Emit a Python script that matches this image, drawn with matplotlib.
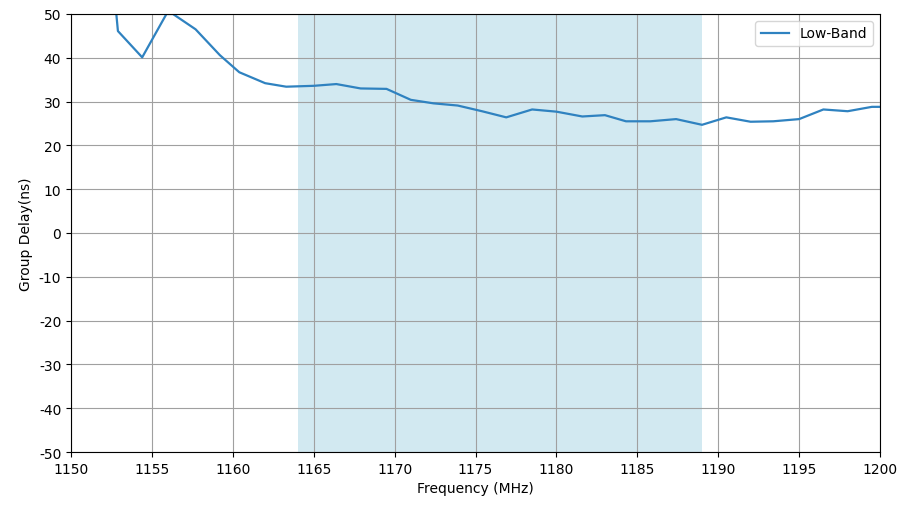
import matplotlib
matplotlib.use("Agg")
import matplotlib.pyplot as plt
import numpy as np

plt.rcParams["axes.unicode_minus"] = False

# frequency (MHz) and group delay (ns)
freq = [1151.4, 1152.9, 1154.4, 1155.9, 1156.3, 1157.7, 1159.2, 1160.4, 1162.0,
        1163.3, 1165.0, 1166.4, 1167.9, 1169.5, 1171.0, 1172.4, 1173.9, 1175.4,
        1176.9, 1178.5, 1180.0, 1181.6, 1183.0, 1184.3, 1185.8, 1187.4, 1189.0,
        1190.5, 1192.0, 1193.4, 1195.0, 1196.5, 1198.0, 1199.5, 1200.0]
delay = [105, 46.1, 40.1, 50.0, 50.0, 46.5, 40.6, 36.7, 34.2,
         33.4, 33.6, 34.0, 33.0, 32.9, 30.4, 29.6, 29.1, 27.8,
         26.4, 28.2, 27.7, 26.6, 26.9, 25.5, 25.5, 26.0, 24.7,
         26.4, 25.4, 25.5, 26.0, 28.2, 27.8, 28.8, 28.8]
band = (1164, 1189)

fig = plt.figure(figsize=(9.01, 5.06), dpi=100)
ax = fig.add_axes([0.0788, 0.1047, 0.8979, 0.8657])

ax.axvspan(band[0], band[1], color="#add8e6", alpha=0.55, lw=0)
ax.plot(freq, delay, color="#2f82c0", lw=1.6, label="Low-Band")

ax.set_xlim(1150, 1200)
ax.set_ylim(-50, 50)
ax.set_xticks(np.arange(1150, 1201, 5))
ax.set_yticks(np.arange(-50, 51, 10))
ax.grid(True, color="#a0a0a0", lw=0.8)
ax.set_xlabel("Frequency (MHz)")
ax.set_ylabel("Group Delay(ns)")
ax.legend(loc="upper right")

fig.savefig("out.png", dpi=100)
